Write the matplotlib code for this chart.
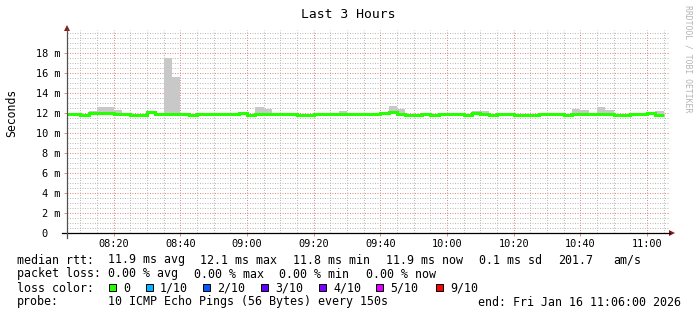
import numpy as np
import matplotlib
matplotlib.use("Agg")
import matplotlib.pyplot as plt
from matplotlib.ticker import FixedLocator, FuncFormatter
from matplotlib.lines import Line2D
from matplotlib.patches import Polygon, Rectangle

# ---------------- data ----------------
title = "Last 3 Hours"
ylabel = "Seconds"
start_minute = 5.0          # first step start: 08:05 (minutes after 08:00)
step_minutes = 2.5          # 150 s probe step
view_start, view_end = 6.0, 186.0   # 08:06 .. 11:06

median_ms = [11.87, 11.93, 11.85, 11.97, 12.05, 12.00, 11.93, 11.93, 11.83, 11.85,
             12.07, 11.93, 11.90, 11.90, 11.90, 11.83, 11.90, 11.90, 11.90, 11.88,
             11.90, 12.00, 11.83, 11.90, 11.90, 11.90, 11.90, 11.90, 11.83, 11.83,
             11.90, 11.90, 11.90, 11.93, 11.90, 11.90, 11.93, 11.93, 12.00, 12.07,
             11.90, 11.80, 11.80, 11.87, 11.82, 11.88, 11.90, 11.90, 11.83, 12.03,
             11.93, 11.83, 11.88, 11.90, 11.83, 11.83, 11.83, 11.87, 11.87, 11.88,
             11.82, 11.95, 11.95, 11.93, 11.93, 11.93, 11.82, 11.82, 11.90, 11.90,
             11.97, 11.85]

smoke_hi = [11.95, 12.00, 11.93, 12.20, 12.57, 12.57, 12.30, 12.00, 11.90, 11.93,
            12.17, 12.00, 17.53, 15.60, 11.97, 11.90, 11.97, 11.97, 11.97, 11.95,
            11.97, 12.07, 11.90, 12.63, 12.40, 11.97, 11.97, 11.97, 11.90, 11.90,
            11.97, 11.97, 11.97, 12.17, 11.97, 11.97, 12.00, 12.00, 12.07, 12.73,
            12.37, 11.87, 11.87, 11.93, 11.88, 11.95, 11.97, 11.97, 11.90, 12.20,
            12.20, 11.90, 11.95, 11.97, 11.90, 11.90, 11.90, 11.93, 11.93, 11.95,
            11.88, 12.37, 12.30, 12.00, 12.60, 12.35, 11.95, 11.95, 11.95, 11.95,
            12.03, 12.20]

smoke_lo = [11.80, 11.87, 11.78, 11.90, 11.98, 11.83, 11.87, 11.87, 11.77, 11.78,
            12.00, 11.87, 11.85, 11.85, 11.83, 11.77, 11.83, 11.83, 11.75, 11.75,
            11.83, 11.93, 11.77, 11.85, 11.85, 11.83, 11.83, 11.83, 11.77, 11.77,
            11.83, 11.83, 11.83, 11.87, 11.83, 11.83, 11.87, 11.87, 11.93, 11.90,
            11.70, 11.73, 11.73, 11.80, 11.75, 11.82, 11.83, 11.83, 11.77, 11.97,
            11.87, 11.77, 11.82, 11.83, 11.77, 11.77, 11.77, 11.80, 11.80, 11.82,
            11.75, 11.78, 11.88, 11.87, 11.87, 11.87, 11.75, 11.75, 11.83, 11.83,
            11.90, 11.78]

y_major = [0, 2, 4, 6, 8, 10, 12, 14, 16, 18]
x_major = [20, 40, 60, 80, 100, 120, 140, 160, 180]

rtt_items = ["median rtt:", "11.9 ms avg", "12.1 ms max", "11.8 ms min",
             "11.9 ms now", "0.1 ms sd", "201.7", "am/s"]
loss_items = ["packet loss:", "0.00 % avg", "0.00 % max", "0.00 % min", "0.00 % now"]
color_title = "loss color:"
probe_items = ["probe:", "10 ICMP Echo Pings (56 Bytes) every 150s"]
end_text = "end: Fri Jan 16 11:06:00 2026"
loss_labels = ["0", "1/10", "2/10", "3/10", "4/10", "5/10", "9/10"]
loss_colors = ["#26ff00", "#00b8ff", "#0059ff", "#5e00ff", "#7e00ff", "#dd00ff", "#ff0000"]

# ---------------- figure ----------------
W, H = 697, 315
fig = plt.figure(figsize=(W / 100, H / 100), dpi=100)
fig.patch.set_facecolor("white")
MONO = "DejaVu Sans Mono"

def fx(px):
    return px / W

def fy(py):
    return 1 - py / H

ax_left, ax_right, ax_bottom, ax_top = 67, 669, 233, 30
ax = fig.add_axes([fx(ax_left), fy(ax_bottom), (ax_right - ax_left) / W, (ax_bottom - ax_top) / H])
ax.set_facecolor("white")
ax.set_xlim(view_start, view_start + (view_end - view_start) * (ax_right - ax_left) / 600.0)
ax.set_ylim(0, 20.3)

n = len(median_ms)
edges = start_minute + step_minutes * np.arange(n + 1)
centers = (edges[:-1] + edges[1:]) / 2
lo = np.array(smoke_lo)
hi = np.array(smoke_hi)

clip_rect = Rectangle((view_start, 0), view_end - view_start, 25, transform=ax.transData)

bars = ax.bar(centers, hi - lo, bottom=lo, width=step_minutes, color="#c8c8c8",
              linewidth=0, zorder=2)
for b in bars:
    b.set_clip_path(clip_rect)

st = ax.stairs(median_ms, edges, baseline=None, color="#26ff00", linewidth=2.2, zorder=3)
st.set_clip_path(clip_rect)

# grid
y_minor = [v for v in np.arange(0.5, 20.01, 0.5) if v not in y_major]
x_minor = [v for v in np.arange(10, 186, 5) if v not in x_major]
ax.yaxis.set_major_locator(FixedLocator(y_major))
ax.yaxis.set_minor_locator(FixedLocator(y_minor))
ax.xaxis.set_major_locator(FixedLocator(x_major))
ax.xaxis.set_minor_locator(FixedLocator(x_minor))

ax.grid(which="minor", color="#bcbcbc", linestyle=(0, (1, 1.5)), linewidth=0.72, zorder=1)
ax.grid(which="major", color="#e48a8a", linestyle=(0, (1, 1.5)), linewidth=0.72, zorder=1)
ax.set_axisbelow(True)

def yfmt(v, pos):
    v = int(round(v))
    return "0  " if v == 0 else f"{v} m"

def xfmt(v, pos):
    m = int(round(v))
    return f"{8 + m // 60:02d}:{m % 60:02d}"

ax.yaxis.set_major_formatter(FuncFormatter(yfmt))
ax.xaxis.set_major_formatter(FuncFormatter(xfmt))
ax.tick_params(which="major", axis="y", length=2, width=0.72, color="#e08c8c", pad=2.8,
               labelsize=7.4, labelfontfamily=MONO)
ax.tick_params(which="major", axis="x", length=2, width=0.72, color="#e08c8c", pad=2.5,
               labelsize=7.4, labelfontfamily=MONO)
ax.tick_params(which="minor", length=0)

for s in ax.spines.values():
    s.set_visible(False)

# axes lines and arrows (figure pixel coords)
fig.add_artist(Line2D([fx(62), fx(670)], [fy(233), fy(233)], color="black", linewidth=0.9))
fig.add_artist(Line2D([fx(67), fx(67)], [fy(238), fy(29)], color="#505050", linewidth=0.9))
fig.add_artist(Polygon([[fx(669), fy(230)], [fx(675), fy(233)], [fx(669), fy(236)]],
                       closed=True, color="#8b1a1a", linewidth=0))
fig.add_artist(Polygon([[fx(64), fy(31)], [fx(67), fy(25)], [fx(70), fy(31)]],
                       closed=True, color="#8b1a1a", linewidth=0))

# texts
FS = 8.4
fig.text(fx(348.5), fy(18), title, family=MONO, fontsize=9.4, ha="center", va="baseline")
fig.text(fx(11.5), fy(112.5), ylabel, family=MONO, fontsize=8.3, rotation=90,
         ha="center", va="center")
fig.text(fx(688), fy(59), "RRDTOOL / TOBI OETIKER", family=MONO, fontsize=5.9,
         rotation=270, ha="center", va="center", color="#b4b4b4")

baselines = [263.5, 277.5, 291.5, 305.5]
rtt_x = [16.7, 107.7, 200, 293.3, 386, 479.3, 558.3, 613.3]
loss_x = [16.7, 107.7, 194.3, 279.3, 366]
probe_x = [16.7, 107.7]
for items, xs, yb in [(rtt_items, rtt_x, baselines[0]), (loss_items, loss_x, baselines[1]),
                      ([color_title], [16.7], baselines[2]), (probe_items, probe_x, baselines[3])]:
    for t, xx in zip(items, xs):
        fig.text(fx(xx), fy(yb), t, family=MONO, fontsize=FS, ha="left", va="baseline")
fig.text(fx(681), fy(baselines[3]), end_text, family=MONO, fontsize=FS,
         ha="right", va="baseline")

sq_x = [109, 146, 203, 261, 319, 376, 436]
for xs, lab, col in zip(sq_x, loss_labels, loss_colors):
    fig.add_artist(Rectangle((fx(xs), fy(291)), 7 / W, 7 / H, facecolor=col,
                             edgecolor="black", linewidth=0.7))
    fig.text(fx(xs + 14), fy(baselines[2]), lab, family=MONO, fontsize=FS,
             ha="left", va="baseline")

fig.savefig("out.png", dpi=100, facecolor="white")
